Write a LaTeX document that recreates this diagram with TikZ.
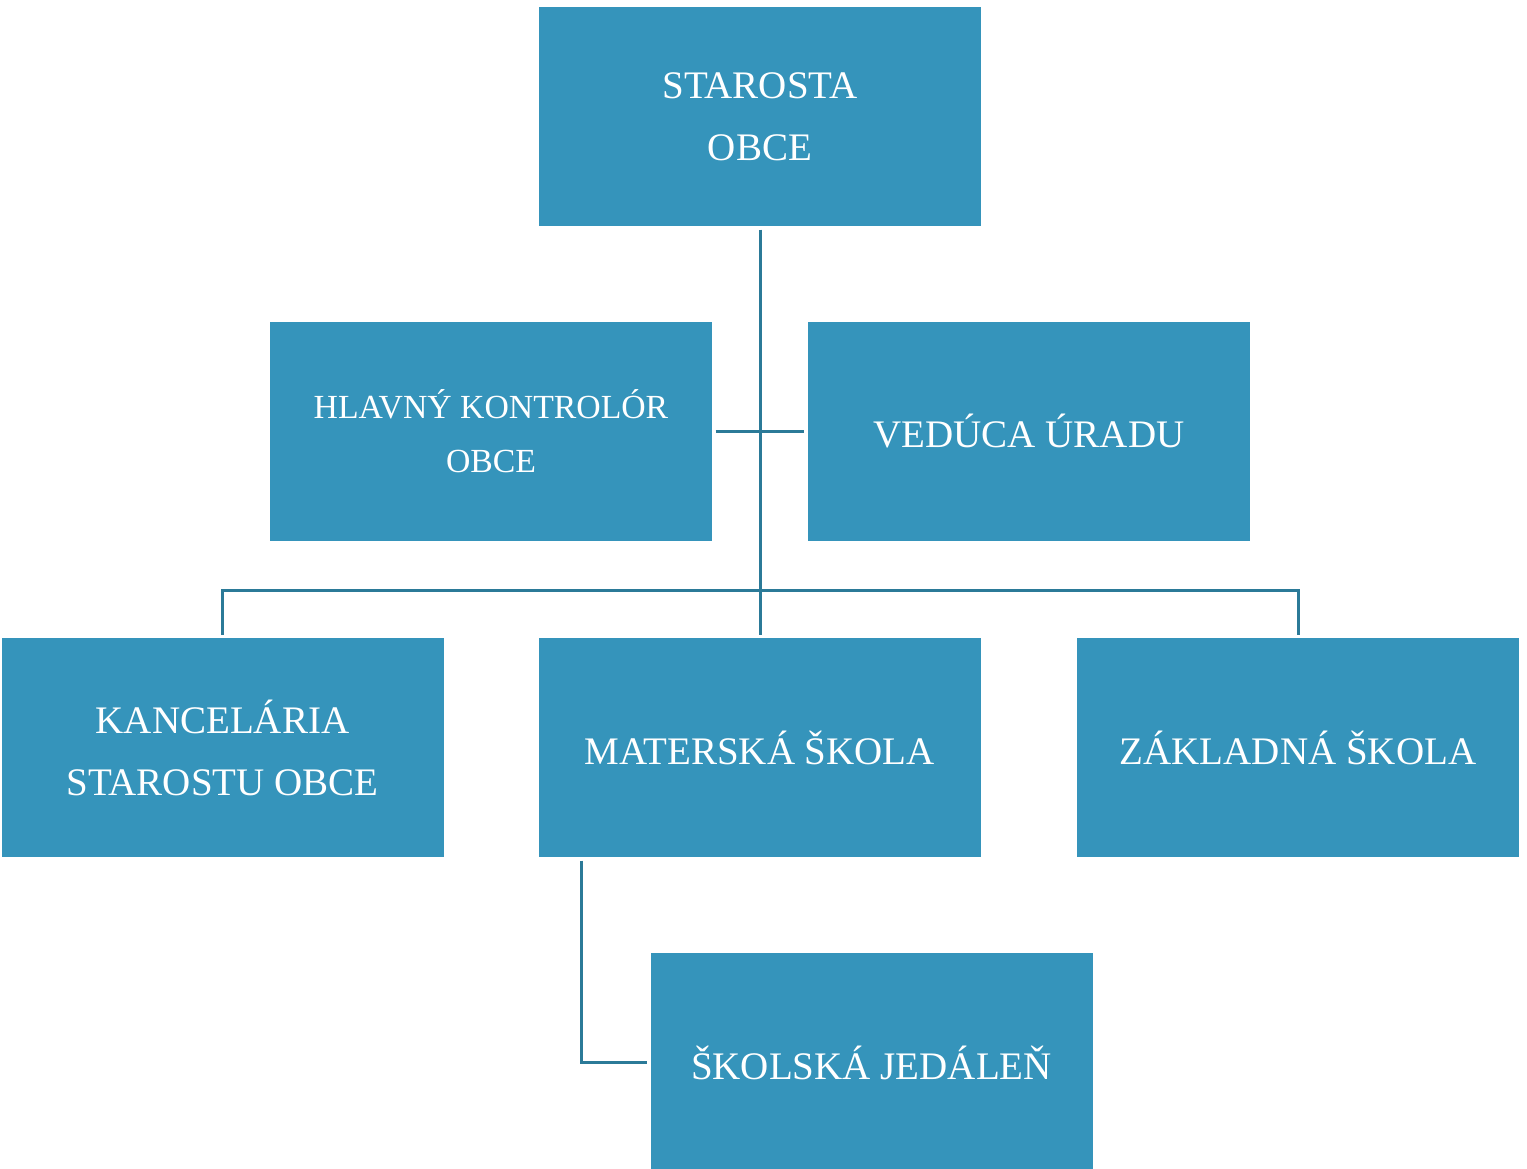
\documentclass[tikz,border=0pt]{standalone}
\usepackage{fontspec}
\setmainfont{Liberation Serif}
\usetikzlibrary{calc}
\definecolor{boxblue}{HTML}{3594BB}
\definecolor{lineblue}{HTML}{2B7A98}

\begin{document}
\begin{tikzpicture}[
    orgbox/.style={rectangle, fill=boxblue, text=white, minimum width=4.42cm,
      minimum height=2.19cm, align=center, outer sep=1pt, font=\fontsize{11.1}{17.6}\selectfont},
    link/.style={draw=lineblue, line width=0.03cm}
  ]

  %--------------------------
  % Canvas
  %--------------------------
  \useasboundingbox (0,0) rectangle (15.27,-11.68);

  %--------------------------
  % Boxes
  %--------------------------
  \node[orgbox] (starosta) at (7.60,-1.165) {STAROSTA\\OBCE};
  \node[orgbox, font=\fontsize{9.6}{15.4}\selectfont] (kontrolor) at (4.91,-4.315) {HLAVNÝ KONTROLÓR\\OBCE};
  \node[orgbox] (veduca) at (10.29,-4.315) {VEDÚCA ÚRADU};
  \node[orgbox] (kancelaria) at (2.225,-7.475) {KANCELÁRIA\\STAROSTU OBCE};
  \node[orgbox] (materska) at (7.60,-7.475) {MATERSKÁ ŠKOLA};
  \node[orgbox] (zakladna) at (12.98,-7.475) {ZÁKLADNÁ ŠKOLA};
  \node[orgbox] (jedalen) at (8.715,-10.625) {ŠKOLSKÁ JEDÁLEŇ};

  %--------------------------
  % Links
  %--------------------------
  \coordinate (bus) at (7.60,-5.90);
  \draw[link] (starosta.south) -- (materska.north);
  \draw[link] (kontrolor.east) -- (veduca.west);
  \draw[link] (kancelaria.north) -- (kancelaria.north |- bus)
    -- (zakladna.north |- bus) -- (zakladna.north);
  \draw[link] ([xshift=0.46cm]materska.south west) |- (jedalen.west);

\end{tikzpicture}
\end{document}
